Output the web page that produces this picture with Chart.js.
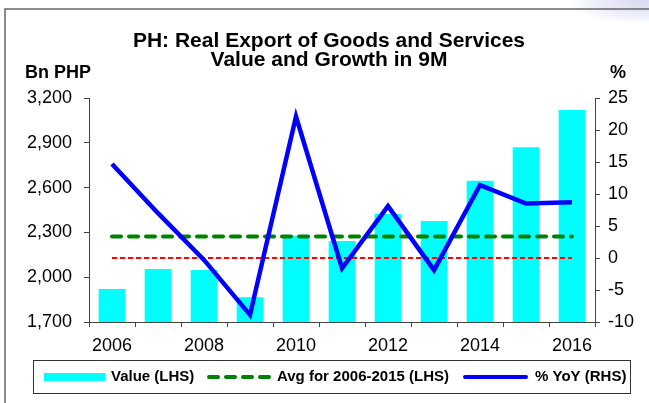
<!DOCTYPE html>
<html>
<head>
<meta charset="utf-8">
<script src="https://cdn.jsdelivr.net/npm/chart.js@4.4.1/dist/chart.umd.min.js"></script>
<style>
  html, body { margin: 0; padding: 0; }
  body {
    width: 649px; height: 403px; overflow: hidden;
    background: #fff radial-gradient(ellipse 70px 22px at 640px 2px, #d9dbf2 0%, #eceefa 60%, rgba(255,255,255,0) 100%) no-repeat;
  }
  #chart { display: block; }
</style>
</head>
<body>
<canvas id="chart" width="649" height="403"></canvas>
<script>
// ---- Data ----
const years = ['2006', '2007', '2008', '2009', '2010', '2011', '2012', '2013', '2014', '2015', '2016'];
const exportValue = [1921, 2055, 2048, 1865, 2278, 2242, 2423, 2376, 2646, 2870, 3120];   // Bn PHP
const yoyGrowth = [14.7, 7.0, -0.3, -8.9, 22.1, -1.6, 8.1, -1.9, 11.4, 8.5, 8.7];      // %
const avg0615 = years.map(() => 2272);   // average 2006-2015, flat line
const zeroLine = years.map(() => 0);

const FONT = 'Arial, "Liberation Sans", sans-serif';

// ---- Frame, titles and legend ----
const decorPlugin = {
  id: 'decor',
  beforeDraw(chart) {
    const ctx = chart.ctx;
    ctx.save();
    ctx.strokeStyle = '#666';
    ctx.lineWidth = 1.5;
    ctx.beginPath();
    ctx.moveTo(649, 9);
    ctx.lineTo(5, 9);
    ctx.lineTo(5, 403);
    ctx.stroke();
    ctx.restore();
  },
  afterDraw(chart) {
    const ctx = chart.ctx;
    ctx.save();
    ctx.fillStyle = '#000';
    ctx.textBaseline = 'alphabetic';

    // title
    ctx.font = `bold 21px ${FONT}`;
    ctx.textAlign = 'center';
    ctx.fillText('PH: Real Export of Goods and Services', 329, 47);
    ctx.fillText('Value and Growth in 9M', 329, 66);

    // unit labels
    ctx.font = `bold 18px ${FONT}`;
    ctx.textAlign = 'left';
    ctx.fillText('Bn PHP', 25, 78);
    ctx.fillText('%', 610, 78);

    // legend box
    ctx.strokeStyle = '#333';
    ctx.lineWidth = 1;
    ctx.strokeRect(33.5, 360.5, 597, 33);

    const ly = 377;
    ctx.fillStyle = '#00FFFF';
    ctx.fillRect(44, 373, 61, 8);

    ctx.lineWidth = 4;
    ctx.strokeStyle = '#008000';
    ctx.lineCap = 'round';
    ctx.setLineDash([9, 8]);
    ctx.beginPath(); ctx.moveTo(209, ly); ctx.lineTo(271, ly); ctx.stroke();

    ctx.setLineDash([]);
    ctx.strokeStyle = '#0000FF';
    ctx.beginPath(); ctx.moveTo(465, ly); ctx.lineTo(526, ly); ctx.stroke();

    ctx.fillStyle = '#000';
    ctx.font = `bold 15px ${FONT}`;
    ctx.textBaseline = 'middle';
    ctx.fillText('Value (LHS)', 111, ly);
    ctx.fillText('Avg for 2006-2015 (LHS)', 277, ly);
    ctx.fillText('% YoY (RHS)', 535, ly);
    ctx.restore();
  }
};

const axisColor = '#444';

new Chart(document.getElementById('chart'), {
  type: 'bar',
  data: {
    labels: years,
    datasets: [
      {
        type: 'line',
        label: '% YoY (RHS)',
        data: yoyGrowth,
        yAxisID: 'y1',
        borderColor: '#0000FF',
        borderWidth: 4.5,
        pointRadius: 0,
        tension: 0,
        borderJoinStyle: 'miter',
        order: 0
      },
      {
        type: 'line',
        label: 'Avg for 2006-2015 (LHS)',
        data: avg0615,
        yAxisID: 'y',
        borderColor: '#008000',
        borderWidth: 4,
        borderDash: [9, 8],
        borderCapStyle: 'round',
        pointRadius: 0,
        order: 1
      },
      {
        type: 'line',
        label: 'zero',
        data: zeroLine,
        yAxisID: 'y1',
        borderColor: '#FF0000',
        borderWidth: 1.8,
        borderDash: [5, 3],
        pointRadius: 0,
        order: 2
      },
      {
        type: 'bar',
        label: 'Value (LHS)',
        data: exportValue,
        yAxisID: 'y',
        backgroundColor: '#00FFFF',
        categoryPercentage: 1,
        barPercentage: 0.58,
        order: 3
      }
    ]
  },
  options: {
    responsive: false,
    animation: false,
    events: [],
    layout: { padding: { top: 98, left: 0, right: 0, bottom: 0 } },
    plugins: {
      legend: { display: false },
      title: { display: false },
      tooltip: { enabled: false }
    },
    scales: {
      x: {
        afterFit: (s) => { s.height = 81; },
        grid: { drawOnChartArea: false, drawTicks: true, tickLength: 5, color: axisColor, offset: true },
        border: { display: true, color: axisColor },
        ticks: {
          autoSkip: false,
          maxRotation: 0,
          padding: 8,
          color: '#000',
          font: { family: FONT, size: 18 },
          callback: (v, i) => (i % 2 === 0 ? years[i] : '')
        }
      },
      y: {
        position: 'left',
        min: 1700,
        max: 3200,
        afterFit: (s) => { s.width = 89; },
        grid: { drawOnChartArea: false, tickLength: 5, color: axisColor },
        border: { display: true, color: axisColor },
        ticks: {
          stepSize: 300,
          padding: 12,
          color: '#000',
          font: { family: FONT, size: 18 },
          callback: (v) => v.toLocaleString('en-US')
        }
      },
      y1: {
        position: 'right',
        min: -10,
        max: 25,
        afterFit: (s) => { s.width = 54; },
        grid: { drawOnChartArea: false, tickLength: 5, color: axisColor },
        border: { display: true, color: axisColor },
        ticks: {
          stepSize: 5,
          padding: 8,
          color: '#000',
          font: { family: FONT, size: 18 }
        }
      }
    }
  },
  plugins: [decorPlugin]
});
</script>
</body>
</html>
